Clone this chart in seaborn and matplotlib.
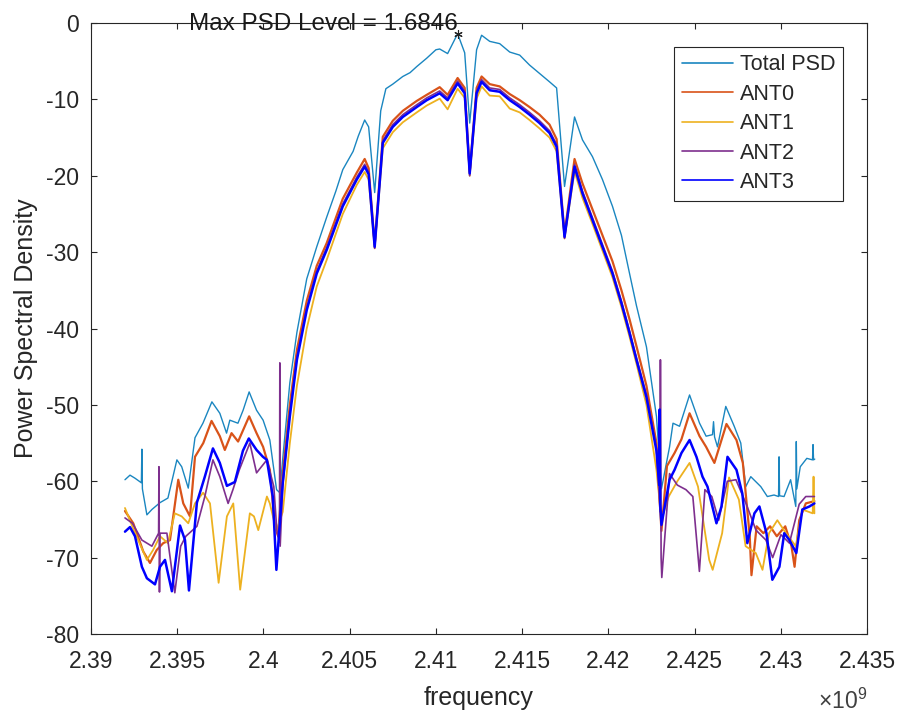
'''
    PSD plot of the 4 antennas (ANT0..ANT3) and their total
'''
import numpy as np
import matplotlib
matplotlib.use('Agg')
import matplotlib.pyplot as plt
from matplotlib.ticker import FuncFormatter, MultipleLocator
import seaborn as sns

# ---- data (frequency in MHz, level in dB) ----
total_mhz = [2391.97, 2392.26, 2392.55, 2392.92, 2392.95, 2392.98, 2393.24, 2393.53, 2394.00, 2394.46,
             2394.98, 2395.26, 2395.64, 2396.03, 2396.49, 2397.01, 2397.47, 2397.86, 2398.05, 2398.52,
             2398.82, 2399.17, 2399.60, 2399.98, 2400.37, 2400.76, 2400.95, 2401.12, 2401.53, 2401.94,
             2402.51, 2403.09, 2403.67, 2404.20, 2404.60, 2405.20, 2405.50, 2405.87, 2406.10, 2406.45,
             2406.80, 2407.10, 2407.50, 2408.08, 2408.50, 2408.89, 2409.47, 2410.00, 2410.22, 2410.68,
             2411.26, 2411.67, 2411.96, 2412.36, 2412.65, 2413.12, 2413.70, 2414.28, 2414.86, 2415.43,
             2416.01, 2416.59, 2417.00, 2417.46, 2418.04, 2418.50, 2419.08, 2419.66, 2420.24, 2420.76,
             2421.23, 2421.63, 2422.21, 2422.79, 2423.08, 2423.55, 2423.75, 2424.13, 2424.71, 2425.29,
             2425.67, 2426.04, 2426.10, 2426.16, 2426.33, 2426.81, 2427.30, 2427.68, 2427.97, 2428.26,
             2428.84, 2429.22, 2429.61, 2429.87, 2429.90, 2429.93, 2430.19, 2430.57, 2430.87, 2430.90,
             2430.93, 2431.13, 2431.51, 2431.84, 2431.87, 2431.90, 2431.97]
total_psd = [-59.8, -59.2, -59.6, -60.2, -55.8, -61.0, -64.4, -63.7, -62.8, -62.2,
             -57.2, -58.1, -60.9, -54.3, -52.4, -49.6, -51.1, -53.7, -52.0, -52.4,
             -50.7, -48.3, -50.7, -52.0, -54.6, -61.1, -61.5, -57.0, -47.1, -40.5,
             -33.5, -29.3, -25.4, -22.0, -19.2, -16.8, -14.8, -12.7, -13.6, -22.2,
             -11.5, -8.6, -8.0, -7.0, -6.5, -5.7, -4.6, -3.5, -3.4, -4.0,
             -1.4, -3.9, -13.1, -3.5, -1.6, -2.4, -2.7, -3.8, -4.2, -5.5,
             -6.6, -7.7, -8.5, -21.4, -12.3, -15.3, -17.5, -20.5, -24.0, -27.8,
             -32.8, -37.0, -42.4, -51.5, -61.0, -55.5, -52.4, -52.8, -48.7, -52.4,
             -54.1, -53.9, -52.2, -54.2, -55.5, -50.2, -52.8, -55.0, -60.7, -59.4,
             -60.7, -62.0, -61.8, -62.0, -56.8, -61.9, -62.0, -59.8, -63.3, -54.8,
             -61.0, -58.1, -57.0, -57.2, -55.2, -57.2, -57.1]

# main lobe frequencies (same points for the four antennas)
lobe_mhz = [2401.12, 2401.53, 2401.94, 2402.51, 2403.09, 2403.67, 2404.60, 2405.41, 2405.87, 2406.10,
            2406.45, 2406.92, 2407.50, 2408.08, 2408.89, 2409.47, 2410.22, 2410.68, 2411.26, 2411.67,
            2411.96, 2412.36, 2412.65, 2413.12, 2413.70, 2414.28, 2414.86, 2415.43, 2416.01, 2416.59,
            2417.00, 2417.46, 2418.04, 2418.50, 2419.08, 2419.66, 2420.24, 2420.76, 2421.23, 2421.63,
            2422.21, 2422.79]

# ANT0
ant0_left_mhz = [2391.97, 2392.45, 2393.03, 2393.42, 2393.81, 2394.19, 2394.58, 2395.06, 2395.35, 2395.74,
                 2396.03, 2396.51, 2396.99, 2397.47, 2397.76, 2398.15, 2398.53, 2399.17, 2399.60, 2399.98,
                 2400.37, 2400.66, 2400.85]
ant0_left_psd = [-63.9, -65.5, -69.2, -70.7, -69.0, -68.1, -67.7, -59.8, -62.9, -64.6,
                 -56.8, -55.0, -52.1, -54.1, -55.9, -53.7, -54.8, -51.5, -53.7, -55.5,
                 -58.5, -65.9, -67.2]
ant0_lobe_psd = [-59.0, -50.0, -42.8, -36.4, -31.8, -28.8, -23.0, -19.6, -17.8, -19.0,
                 -29.0, -14.9, -12.8, -11.5, -10.2, -9.4, -8.4, -9.4, -7.2, -8.5,
                 -19.5, -8.5, -7.0, -8.0, -8.3, -9.3, -10.1, -11.0, -12.0, -13.3,
                 -15.2, -27.6, -17.8, -21.0, -24.4, -27.8, -31.2, -35.0, -38.8, -42.3,
                 -47.5, -55.0]
ant0_right_mhz = [2423.08, 2423.40, 2423.84, 2424.24, 2424.71, 2425.29, 2425.67, 2426.15, 2426.85, 2427.43,
                  2427.80, 2428.20, 2428.30, 2428.60, 2428.99, 2429.38, 2429.77, 2430.26, 2430.62, 2430.80,
                  2431.07, 2431.45, 2431.95]
ant0_right_psd = [-66.5, -58.0, -56.3, -54.5, -51.1, -54.1, -55.5, -57.6, -52.5, -54.6,
                  -57.6, -67.2, -72.3, -65.9, -66.8, -65.9, -67.2, -65.9, -68.5, -71.2,
                  -65.1, -62.9, -62.6]

# ANT1
ant1_left_mhz = [2391.97, 2392.50, 2393.24, 2393.60, 2394.00, 2394.46, 2394.86, 2395.26, 2395.64, 2396.03,
                 2396.50, 2396.90, 2397.40, 2397.88, 2398.25, 2398.65, 2399.21, 2399.45, 2399.70, 2400.20,
                 2400.37, 2400.75]
ant1_left_psd = [-63.5, -66.5, -70.3, -69.0, -67.2, -68.1, -64.2, -64.6, -65.5, -62.9,
                 -61.5, -62.9, -73.3, -64.6, -62.9, -74.2, -64.2, -64.6, -66.4, -62.0,
                 -62.9, -66.5]
ant1_lobe_psd = [-64.0, -55.0, -47.5, -40.0, -34.5, -31.0, -25.0, -21.2, -19.5, -20.5,
                 -29.5, -16.4, -14.3, -13.0, -11.7, -10.8, -9.9, -11.3, -8.6, -9.8,
                 -20.0, -9.9, -8.3, -9.5, -9.6, -11.2, -11.7, -12.7, -13.8, -15.0,
                 -16.8, -28.2, -19.4, -22.9, -26.3, -29.8, -33.3, -37.2, -41.1, -44.6,
                 -50.0, -58.5]
ant1_right_mhz = [2423.08, 2423.50, 2424.00, 2424.71, 2425.20, 2425.85, 2426.05, 2426.60, 2427.00, 2427.57,
                  2427.96, 2428.55, 2428.94, 2429.32, 2429.80, 2430.30, 2430.87, 2431.25, 2431.85, 2431.90,
                  2431.95]
ant1_right_psd = [-65.0, -62.0, -60.0, -57.6, -60.7, -70.3, -71.6, -66.8, -59.5, -62.4,
                  -68.5, -69.4, -71.6, -66.8, -65.1, -66.8, -68.5, -63.7, -64.2, -59.4,
                  -64.2]

# ANT2
ant2_left_mhz = [2391.97, 2392.40, 2392.95, 2393.53, 2393.92, 2393.94, 2393.97, 2394.00, 2394.40, 2394.86,
                 2395.20, 2395.50, 2396.14, 2396.60, 2397.07, 2397.47, 2397.95, 2398.23, 2398.60, 2399.21,
                 2399.60, 2400.20, 2400.60, 2400.78, 2400.93, 2400.95, 2400.97]
ant2_left_psd = [-64.8, -65.5, -67.7, -68.5, -66.8, -58.1, -74.5, -66.8, -66.8, -74.6,
                 -68.5, -67.2, -65.9, -62.0, -57.2, -59.4, -62.9, -61.1, -58.5, -55.0,
                 -58.9, -57.2, -60.7, -66.5, -68.0, -44.5, -68.5]
ant2_lobe_psd = [-60.5, -51.2, -43.8, -37.3, -32.5, -29.4, -23.7, -20.2, -18.5, -19.5,
                 -29.5, -15.4, -13.3, -12.0, -10.7, -9.8, -8.9, -9.8, -7.6, -8.9,
                 -20.0, -8.9, -7.4, -8.5, -8.7, -9.8, -10.7, -11.7, -12.8, -14.1,
                 -15.9, -28.2, -18.5, -22.0, -25.5, -29.0, -32.5, -36.4, -40.3, -43.8,
                 -48.7, -55.7]
ant2_right_mhz = [2423.00, 2423.02, 2423.06, 2423.10, 2423.55, 2424.00, 2424.50, 2424.90, 2425.28, 2425.60,
                  2426.00, 2426.40, 2426.90, 2427.40, 2428.00, 2428.56, 2429.14, 2429.53, 2430.01, 2430.50,
                  2431.07, 2431.45, 2431.95]
ant2_right_psd = [-64.0, -44.1, -70.0, -72.6, -59.0, -60.5, -61.1, -62.0, -71.8, -61.1,
                  -62.0, -65.1, -60.0, -59.8, -63.0, -66.4, -67.7, -70.0, -67.0, -68.1,
                  -63.0, -62.0, -62.0]

# ANT3
ant3_left_mhz = [2391.97, 2392.26, 2392.55, 2392.95, 2393.24, 2393.71, 2394.00, 2394.29, 2394.69, 2395.16,
                 2395.45, 2395.68, 2396.14, 2396.60, 2397.07, 2397.47, 2397.88, 2398.34, 2398.81, 2399.15,
                 2399.60, 2399.97, 2400.20, 2400.54, 2400.75]
ant3_left_psd = [-66.6, -66.0, -67.2, -71.2, -72.7, -73.5, -71.2, -70.3, -74.4, -65.8,
                 -67.7, -74.3, -62.8, -59.4, -55.7, -57.6, -60.6, -60.1, -56.0, -54.4,
                 -55.9, -56.8, -57.2, -62.0, -71.6]
ant3_lobe_psd = [-60.2, -51.5, -44.1, -37.6, -32.8, -29.7, -24.0, -20.5, -18.8, -19.8,
                 -29.3, -15.7, -13.6, -12.3, -11.0, -10.1, -9.2, -10.1, -7.9, -9.2,
                 -19.7, -9.2, -7.7, -8.8, -9.0, -10.1, -11.0, -12.0, -13.1, -14.4,
                 -16.2, -28.0, -18.8, -22.3, -25.8, -29.3, -32.8, -36.7, -40.6, -44.1,
                 -49.0, -56.0]
ant3_right_mhz = [2422.95, 2422.98, 2423.01, 2423.08, 2423.55, 2423.84, 2424.24, 2424.71, 2425.11, 2425.46,
                  2425.75, 2426.27, 2426.56, 2426.91, 2427.43, 2427.77, 2428.06, 2428.47, 2428.76, 2429.17,
                  2429.51, 2429.92, 2430.20, 2430.50, 2430.90, 2431.25, 2431.66, 2431.95]
ant3_right_psd = [-60.5, -50.6, -63.0, -65.7, -59.8, -58.5, -56.3, -54.6, -56.8, -59.4,
                  -60.7, -65.5, -63.3, -56.8, -58.5, -61.6, -68.1, -64.2, -63.3, -66.8,
                  -72.9, -71.2, -66.8, -67.7, -69.4, -63.7, -63.3, -62.9]

max_psd_label = 1.6846   # value printed in the annotation

# ---- plot ----
sns.set_style('ticks')
plt.rcParams['font.family'] = ['Liberation Sans', 'DejaVu Sans']
plt.rcParams['axes.unicode_minus'] = False
plt.rcParams['mathtext.fontset'] = 'custom'
plt.rcParams['mathtext.rm'] = 'Liberation Sans'

fig = plt.figure(figsize=(9.02, 7.13), dpi=100)
ax = fig.add_axes([0.1009, 0.1108, 0.8603, 0.8569])

series = [
    ('Total PSD', total_mhz, total_psd, '#1a86c0', 1.0),
    ('ANT0', ant0_left_mhz + lobe_mhz + ant0_right_mhz, ant0_left_psd + ant0_lobe_psd + ant0_right_psd, '#D95319', 1.6),
    ('ANT1', ant1_left_mhz + lobe_mhz + ant1_right_mhz, ant1_left_psd + ant1_lobe_psd + ant1_right_psd, '#EDB120', 1.3),
    ('ANT2', ant2_left_mhz + lobe_mhz + ant2_right_mhz, ant2_left_psd + ant2_lobe_psd + ant2_right_psd, '#7E2F8E', 1.2),
    ('ANT3', ant3_left_mhz + lobe_mhz + ant3_right_mhz, ant3_left_psd + ant3_lobe_psd + ant3_right_psd, '#0000FF', 1.8),
]
for name, f, p, c, lw in series:
    sns.lineplot(x=np.array(f) * 1e6, y=p, ax=ax, color=c, linewidth=lw,
                 label=name, sort=False, estimator=None)

# max marker + text
i = int(np.argmax(total_psd))
fx, py = total_mhz[i] * 1e6, total_psd[i]
ax.plot(fx, py, marker=(6, 2, 0), ms=6, color='#222222', mew=0.8, zorder=5)
ax.annotate('Max PSD Level = {}'.format(max_psd_label), xy=(fx, py), xytext=(0, 3),
            textcoords='offset points', ha='right', va='baseline', fontsize=17.5,
            color='#1a1a1a', annotation_clip=False, zorder=6)

ax.set_xlim(2.39e9, 2.435e9)
ax.set_ylim(-80, 0)
ax.xaxis.set_major_locator(MultipleLocator(0.005e9))
ax.yaxis.set_major_locator(MultipleLocator(10))
ax.xaxis.set_major_formatter(FuncFormatter(lambda v, pos: '{:g}'.format(round(v / 1e9, 4))))
ax.yaxis.set_major_formatter(FuncFormatter(lambda v, pos: '{:g}'.format(v)))

for s in ax.spines.values():
    s.set_visible(True)
    s.set_color('#262626')
    s.set_linewidth(0.8)
ax.tick_params(direction='in', top=True, right=True, length=4.5, width=0.8,
               colors='#262626', labelsize=16.5)
ax.tick_params(axis='x', pad=11.5)
ax.tick_params(axis='y', pad=8.5)

ax.set_xlabel('frequency', fontsize=18, color='#262626')
ax.set_ylabel('Power Spectral Density', fontsize=18, color='#262626')
ax.xaxis.set_label_coords(0.5, -0.085)
ax.yaxis.set_label_coords(-0.068, 0.5)
ax.text(1.0, -0.123, r'$\times10^{9}$', transform=ax.transAxes, ha='right',
        va='baseline', fontsize=16.5, color='#404040')

leg = ax.legend(loc='upper right', bbox_to_anchor=(0.969, 0.961), fontsize=15.5,
                frameon=True, fancybox=False, edgecolor='#262626', framealpha=1,
                borderaxespad=0, handlelength=2.4, handletextpad=0.3,
                labelspacing=0.39, borderpad=0.35)
leg.get_frame().set_linewidth(0.8)
for line in leg.get_lines():
    line.set_linewidth(1.2)

fig.savefig('out.png', dpi=100)
